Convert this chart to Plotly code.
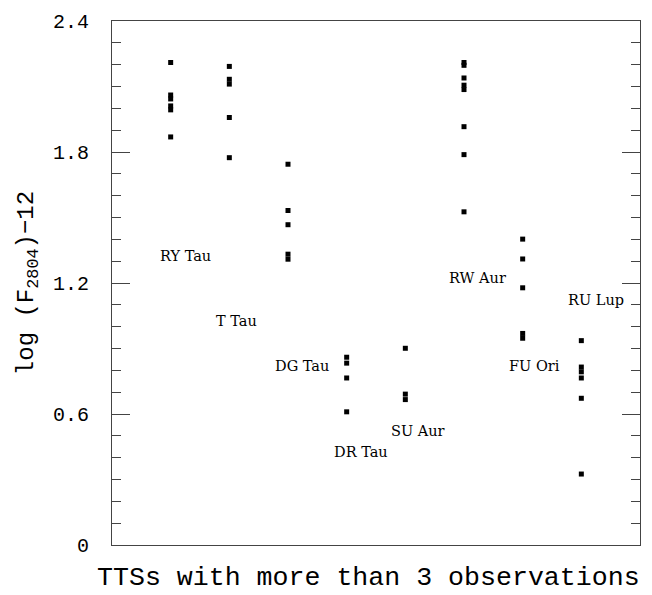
import plotly.graph_objects as go

# Stars (one column each, positions 1..8 on x)
stars = ["RY Tau", "T Tau", "DG Tau", "DR Tau", "SU Aur", "RW Aur", "FU Ori", "RU Lup"]
star_pos = [1, 2, 3, 4, 5, 6, 7, 8]

# log(F_2804) - 12 observations per star
ry_tau = [2.210, 2.061, 2.043, 2.011, 1.993, 1.869]
t_tau = [2.192, 2.133, 2.111, 1.958, 1.774]
dg_tau = [1.744, 1.532, 1.467, 1.332, 1.309]
dr_tau = [0.860, 0.833, 0.765, 0.610]
su_aur = [0.901, 0.691, 0.666]
rw_aur = [2.210, 2.197, 2.139, 2.106, 2.086, 1.916, 1.788, 1.526]
fu_ori = [1.401, 1.310, 1.178, 0.969, 0.947]
ru_lup = [0.936, 0.815, 0.793, 0.765, 0.672, 0.325]
series = [ry_tau, t_tau, dg_tau, dr_tau, su_aur, rw_aur, fu_ori, ru_lup]

# label anchor points (data coordinates)
label_x = [1.25, 2.13, 3.24, 4.24, 5.22, 6.23, 7.20, 8.25]
label_y = [1.322, 1.024, 0.820, 0.426, 0.521, 1.223, 0.820, 1.123]

# y axis ticks
ytick_vals = [0, 0.6, 1.2, 1.8, 2.4]
ytick_text = ["0", "0.6", "1.2", "1.8", "2.4"]

xs, ys = [], []
for p, vals in zip(star_pos, series):
    xs += [p] * len(vals)
    ys += vals

fig = go.Figure()
fig.add_trace(go.Scatter(
    x=xs, y=ys, mode="markers",
    marker=dict(symbol="square", size=5, color="black", line=dict(width=0)),
    showlegend=False, hoverinfo="skip",
))

for name, lx, ly in zip(stars, label_x, label_y):
    fig.add_annotation(x=lx, y=ly, text=name, showarrow=False,
                       font=dict(family="DejaVu Serif", size=14.5, color="black"),
                       xanchor="center", yanchor="middle")

# x-axis title as an annotation for exact placement
fig.add_annotation(xref="paper", yref="paper", x=0.485, y=-0.031,
                   text="TTSs with more than 3 observations", showarrow=False,
                   font=dict(family="Liberation Mono", size=26.6, color="black"),
                   xanchor="center", yanchor="top")

axis_line = dict(showline=True, linecolor="#444", linewidth=1, mirror="ticks",
                 showgrid=False, zeroline=False)

fig.update_xaxes(range=[0, 9], showticklabels=False, ticks="", **axis_line)
fig.update_yaxes(range=[0, 2.4], tickvals=ytick_vals, ticktext=ytick_text,
                 ticks="inside", ticklen=18, tickwidth=1, tickcolor="#444",
                 minor=dict(dtick=0.1, tick0=0, ticks="inside", ticklen=9,
                            tickwidth=1, tickcolor="#444", showgrid=False),
                 ticklabelstandoff=18,
                 tickfont=dict(family="Liberation Mono", size=20, color="black"),
                 title=dict(text="log (F<sub>2804</sub>)\u221212",
                            font=dict(family="Liberation Mono", size=24, color="black"),
                            standoff=12),
                 **axis_line)

fig.update_layout(
    width=652, height=595,
    margin=dict(l=112, r=11, t=15, b=50),
    paper_bgcolor="white", plot_bgcolor="white",
)

fig.write_html("out.html")
